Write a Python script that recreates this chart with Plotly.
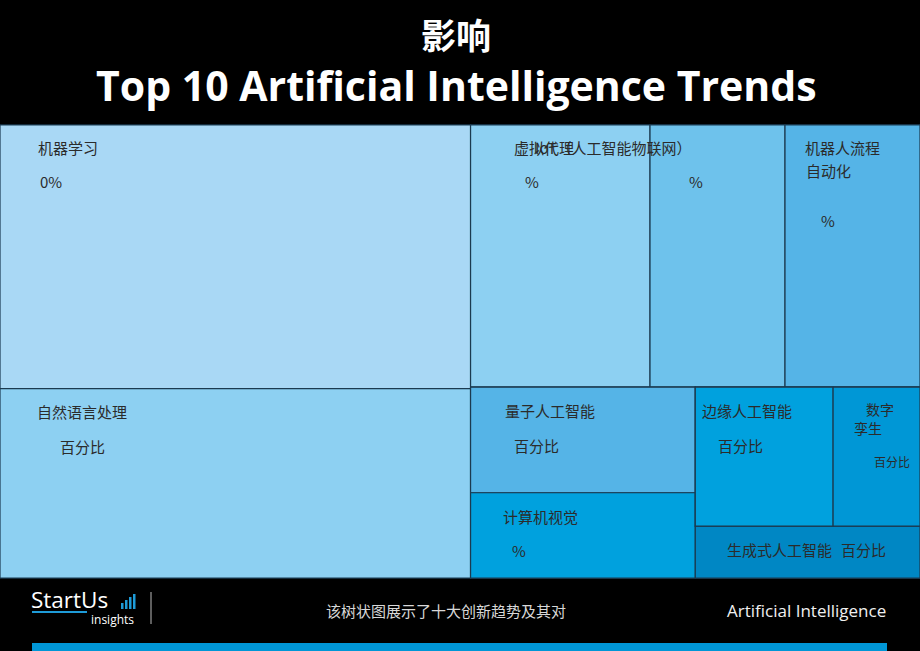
import plotly.graph_objects as go

# ---------------- data ----------------
trends = ["机器学习", "自然语言处理", "虚拟代理", "IoT（人工智能物联网）", "机器人流程自动化",
          "量子人工智能", "计算机视觉", "边缘人工智能", "数字孪生", "生成式人工智能"]
impact = [29.8, 21.4, 11.3, 8.5, 8.5, 5.7, 4.6, 4.6, 2.9, 2.8]
value_texts = ["0%", "百分比", "%", "%", "%", "百分比", "%", "百分比", "百分比", "百分比"]
tile_colors = ["#A9D8F5", "#8DD0F2", "#8DD0F2", "#6EC2EC", "#55B4E7",
               "#55B4E7", "#00A1DE", "#00A1DE", "#0097D6", "#0087C4"]
# grouping used only to reproduce the tiling arrangement
group_of = ["L", "L", "RT", "RT", "RT", "QC", "QC", "ED", "ED", "EDG"]
groups = ["L", "R", "RT", "RB", "QC", "EDG", "ED"]
group_parent = ["", "", "R", "R", "RB", "RB", "EDG"]

title_cn = "影响"
title_en = "Top 10 Artificial Intelligence Trends"
footer_text = "该树状图展示了十大创新趋势及其对"
footer_right = "Artificial Intelligence"

# ---------------- figure ----------------
W, H = 920, 651
ids = groups + trends
parents = group_parent + group_of
vals = [0] * len(groups) + impact
cols = ["#8DD0F2"] * len(groups) + tile_colors

fig = go.Figure(go.Treemap(
    ids=ids, labels=ids, parents=parents, values=vals,
    branchvalues="remainder", sort=False,
    marker=dict(colors=cols, line=dict(color="#1B3A50", width=1.2),
                pad=dict(t=0, l=0, r=0, b=0)),
    tiling=dict(packing="slice-dice", pad=0),
    textinfo="none", hoverinfo="skip",
    pathbar=dict(visible=False),
    domain=dict(x=[0, 1], y=[1 - 578 / H, 1 - 125 / H]),
))


def px(x):
    return x / W


def py(y):
    return 1 - y / H


ann = []


def add_text(t, x, y, size, color="#2B2B2B", anchor="left", family="Noto Sans CJK SC"):
    ann.append(dict(text=t, x=px(x), y=py(y), xref="paper", yref="paper",
                    xanchor=anchor, yanchor="middle", showarrow=False,
                    font=dict(family=family, size=size, color=color)))


# tile labels
add_text(trends[0], 36, 147, 15); add_text(value_texts[0], 38, 182, 15)
add_text(trends[1], 35, 411, 15); add_text(value_texts[1], 58, 446, 15)
add_text(trends[2], 512, 147, 15); add_text(value_texts[2], 523, 182, 15)
add_text(trends[3], 694, 147, 15, anchor="right"); add_text(value_texts[3], 687, 182, 15)
add_text("机器人流程", 803, 147, 15); add_text("自动化", 804, 171, 15)
add_text(value_texts[4], 819, 220, 15)
add_text(trends[5], 503, 410, 15); add_text(value_texts[5], 512, 445, 15)
add_text(trends[6], 501, 516, 15); add_text(value_texts[6], 510, 550, 15)
add_text(trends[7], 700, 410, 15); add_text(value_texts[7], 716, 445, 15)
add_text("数字", 864, 409, 14); add_text("孪生", 852, 428, 14)
add_text(value_texts[8], 872, 461, 12)
add_text(trends[9], 725, 549, 15); add_text(value_texts[9], 839, 549, 15)

# titles
ann.append(dict(text="<b>" + title_cn + "</b>", x=px(456), y=py(33), xref="paper", yref="paper",
                xanchor="center", yanchor="middle", showarrow=False,
                font=dict(family="Noto Sans CJK SC", size=35, color="white")))
ann.append(dict(text="<b>" + title_en + "</b>", x=px(456), y=py(85), xref="paper", yref="paper",
                xanchor="center", yanchor="middle", showarrow=False,
                font=dict(family="Open Sans", size=41, color="white")))

# footer
add_text(footer_text, 324, 610, 15, color="#D8D8D8")
add_text(footer_right, 888, 610, 17, color="#F0F0F0", anchor="right", family="Open Sans")
add_text("StartUs", 29, 599, 22.5, color="white", family="Open Sans")
add_text("insights", 136, 619, 12, color="white", anchor="right", family="Open Sans")

shapes = []
# footer blue bar
shapes.append(dict(type="rect", xref="paper", yref="paper", x0=px(32), x1=px(887),
                   y0=py(651), y1=py(643), fillcolor="#0096D6", line=dict(width=0)))
# logo underline
shapes.append(dict(type="rect", xref="paper", yref="paper", x0=px(32), x1=px(87),
                   y0=py(613), y1=py(611), fillcolor="#1E9BD7", line=dict(width=0)))
# logo bars
for i, top in enumerate([603, 600, 597, 594]):
    x0 = 121 + i * 4
    shapes.append(dict(type="rect", xref="paper", yref="paper", x0=px(x0), x1=px(x0 + 2.5),
                       y0=py(609), y1=py(top), fillcolor="#1E9BD7", line=dict(width=0)))
# separator
shapes.append(dict(type="line", xref="paper", yref="paper", x0=px(151), x1=px(151),
                   y0=py(592), y1=py(624), line=dict(color="#BBBBBB", width=1)))

fig.update_layout(
    width=W, height=H, margin=dict(l=0, r=0, t=0, b=0),
    paper_bgcolor="black", plot_bgcolor="black",
    annotations=ann, shapes=shapes, showlegend=False,
)

fig.write_html("out.html")
